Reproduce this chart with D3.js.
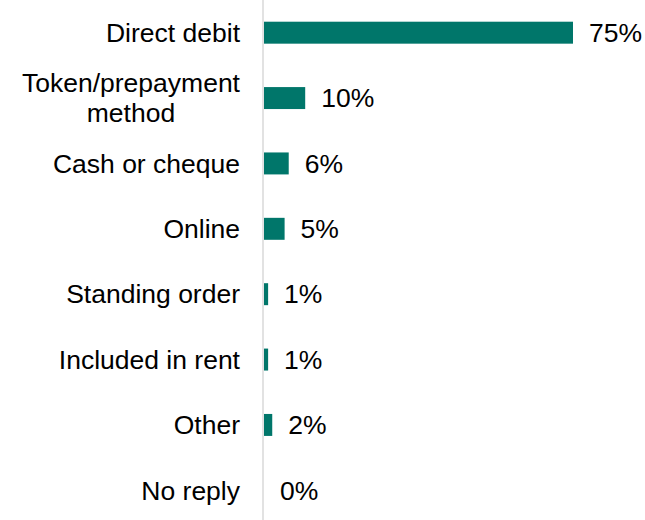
<!DOCTYPE html>
<html>
<head>
<meta charset="utf-8">
<script src="https://cdn.jsdelivr.net/npm/d3@7"></script>
<style>
  html, body { margin: 0; padding: 0; background: #ffffff; }
  svg { display: block; }
  text { font-family: "Liberation Sans", Arial, sans-serif; fill: #000000; }
</style>
</head>
<body>
<svg id="chart" width="645" height="520"></svg>
<script>
// How bills are paid: share of respondents by payment method
const categories = [
  "Direct debit",
  "Token/prepayment method",
  "Cash or cheque",
  "Online",
  "Standing order",
  "Included in rent",
  "Other",
  "No reply"
];
// Category labels split across lines where they wrap
const labelLines = [
  ["Direct debit"],
  ["Token/prepayment", "method"],
  ["Cash or cheque"],
  ["Online"],
  ["Standing order"],
  ["Included in rent"],
  ["Other"],
  ["No reply"]
];
const values = [75, 10, 6, 5, 1, 1, 2, 0];
const valueLabels = ["75%", "10%", "6%", "5%", "1%", "1%", "2%", "0%"];

const width = 645, height = 520;
const axisX = 263;
const barStart = 264;
const labelRight = 240;
const fontSize = 26.5;

const svg = d3.select("#chart");

const x = d3.scaleLinear().domain([0, 75]).range([barStart, 573]);
const y = d3.scaleBand()
  .domain(categories)
  .range([0, 523])
  .paddingInner(0.664)
  .paddingOuter(0.332);

// Vertical baseline
svg.append("line")
  .attr("x1", axisX).attr("x2", axisX)
  .attr("y1", 0).attr("y2", height)
  .attr("stroke", "#d9d9d9")
  .attr("stroke-width", 1.5);

// Bars
svg.append("g").selectAll("rect")
  .data(categories)
  .join("rect")
  .attr("x", barStart)
  .attr("y", d => y(d))
  .attr("width", (d, i) => x(values[i]) - barStart)
  .attr("height", y.bandwidth())
  .attr("fill", "#00766A");

// Value labels
svg.append("g").selectAll("text")
  .data(categories)
  .join("text")
  .attr("x", (d, i) => x(values[i]) + 16)
  .attr("y", d => y(d) + y.bandwidth() / 2)
  .attr("dy", "0.35em")
  .attr("font-size", fontSize)
  .text((d, i) => valueLabels[i]);

// Category labels: right-aligned block, lines centred within the block
const lineH = 30;
const catG = svg.append("g");
categories.forEach((d, i) => {
  const lines = labelLines[i];
  const cy = y(d) + y.bandwidth() / 2;
  const first = cy + 9.3 - (lines.length - 1) * lineH / 2;
  const t = catG.append("text")
    .attr("font-size", fontSize)
    .attr("text-anchor", "middle");
  const spans = lines.map((ln, k) =>
    t.append("tspan").attr("y", first + k * lineH).text(ln));
  const maxW = d3.max(spans, s => s.node().getComputedTextLength());
  spans.forEach(s => s.attr("x", labelRight - maxW / 2));
});
</script>
</body>
</html>
